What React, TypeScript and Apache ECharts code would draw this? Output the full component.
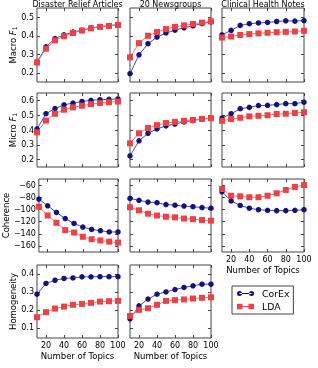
import React, { useEffect, useRef } from 'react';
import * as echarts from 'echarts';

const topics = [10, 20, 30, 40, 50, 60, 70, 80, 90, 100];
const topicTicks = [20, 40, 60, 80, 100];

const datasets = ['Disaster Relief Articles', '20 Newsgroups', 'Clinical Health Notes'];

const macroCorexDisaster = [0.258, 0.34, 0.385, 0.405, 0.42, 0.43, 0.442, 0.45, 0.455, 0.46];
const macroLdaDisaster = [0.255, 0.33, 0.375, 0.398, 0.415, 0.428, 0.44, 0.448, 0.453, 0.458];
const macroCorexNews = [0.195, 0.297, 0.357, 0.393, 0.415, 0.43, 0.443, 0.454, 0.466, 0.475];
const macroLdaNews = [0.283, 0.36, 0.4, 0.42, 0.436, 0.448, 0.456, 0.464, 0.471, 0.478];
const macroCorexClinical = [0.405, 0.429, 0.456, 0.465, 0.469, 0.472, 0.477, 0.481, 0.479, 0.482];
const macroLdaClinical = [0.39, 0.396, 0.404, 0.409, 0.413, 0.416, 0.419, 0.421, 0.423, 0.427];

const microCorexDisaster = [0.407, 0.51, 0.545, 0.57, 0.582, 0.593, 0.6, 0.605, 0.607, 0.61];
const microLdaDisaster = [0.384, 0.464, 0.51, 0.537, 0.553, 0.564, 0.575, 0.583, 0.588, 0.592];
const microCorexNews = [0.225, 0.327, 0.378, 0.407, 0.428, 0.44, 0.455, 0.464, 0.474, 0.48];
const microLdaNews = [0.31, 0.378, 0.414, 0.433, 0.447, 0.455, 0.462, 0.468, 0.475, 0.48];
const microCorexClinical = [0.48, 0.51, 0.544, 0.553, 0.565, 0.567, 0.572, 0.578, 0.578, 0.588];
const microLdaClinical = [0.462, 0.474, 0.483, 0.492, 0.496, 0.5, 0.508, 0.51, 0.515, 0.52];

const cohCorexDisaster = [-83, -94, -105, -115, -123, -129, -133, -135, -137, -137];
const cohLdaDisaster = [-95.5, -110, -122, -134, -138, -145, -149, -151, -153, -154.5];
const cohCorexNews = [-82, -85, -88, -89, -92, -93, -94.5, -95.5, -97, -98];
const cohLdaNews = [-96.5, -101.5, -107, -110, -112, -113, -115, -116, -117.5, -118.5];
const cohCorexClinical = [-71, -86, -93.5, -98, -100.5, -101.5, -102, -102, -101.5, -100.5];
const cohLdaClinical = [-66.5, -77.5, -78.5, -80, -80, -77.5, -73.5, -68, -63, -60];

const homCorexDisaster = [0.287, 0.347, 0.365, 0.375, 0.378, 0.384, 0.384, 0.385, 0.385, 0.385];
const homLdaDisaster = [0.159, 0.187, 0.207, 0.218, 0.228, 0.233, 0.239, 0.246, 0.248, 0.25];
const homCorexNews = [0.15, 0.222, 0.26, 0.287, 0.3, 0.313, 0.325, 0.334, 0.343, 0.343];
const homLdaNews = [0.166, 0.2, 0.209, 0.228, 0.25, 0.254, 0.258, 0.263, 0.267, 0.27];

const macroTicks = [0.2, 0.3, 0.4, 0.5];
const microTicks = [0.2, 0.3, 0.4, 0.5, 0.6];
const cohTicks = [-160, -140, -120, -100, -80, -60];
const homTicks = [0.1, 0.2, 0.3, 0.4];

const FONT = 'DejaVu Sans';
const FRAME = '#444';
const COREX_MARK = '#12127a';
const COREX_LINE = '#4a4ab2';
const LDA_MARK = '#ec4146';
const LDA_LINE = '#f27272';

const rows = [
  { name: 'Macro {i|F}{s|1}', min: 0.15, max: 0.55, ticks: macroTicks,
    data: [[macroCorexDisaster, macroLdaDisaster], [macroCorexNews, macroLdaNews], [macroCorexClinical, macroLdaClinical]] },
  { name: 'Micro {i|F}{s|1}', min: 0.15, max: 0.65, ticks: microTicks,
    data: [[microCorexDisaster, microLdaDisaster], [microCorexNews, microLdaNews], [microCorexClinical, microLdaClinical]] },
  { name: 'Coherence', min: -170, max: -50, ticks: cohTicks,
    data: [[cohCorexDisaster, cohLdaDisaster], [cohCorexNews, cohLdaNews], [cohCorexClinical, cohLdaClinical]] },
  { name: 'Homogeneity', min: 0.043, max: 0.45, ticks: homTicks,
    data: [[homCorexDisaster, homLdaDisaster], [homCorexNews, homLdaNews]] },
];

const colLeft = [37, 130, 222];
const colWidth = [81, 81, 82];
const rowTop = [8, 93, 179, 265];
const rowHeight = [74, 74, 73, 73];

const fmt = (v: number) => String(v).replace('-', '\u2212');

export default function App() {
  const ref = useRef<HTMLDivElement>(null);
  useEffect(() => {
    const chart = echarts.init(ref.current!, null, { renderer: 'svg' });
    const grid: any[] = [];
    const xAxis: any[] = [];
    const yAxis: any[] = [];
    const series: any[] = [];
    const tickStyle = { show: true, inside: true, length: 3, lineStyle: { color: FRAME, width: 1 } };
    rows.forEach((row, r) => {
      row.data.forEach((pair, c) => {
        const g = grid.length;
        grid.push({ left: colLeft[c], top: rowTop[r], width: colWidth[c], height: rowHeight[r],
          show: true, borderColor: FRAME, borderWidth: 1, backgroundColor: 'transparent' });
        const showX = r === 3 || (r === 2 && c === 2);
        xAxis.push({ gridIndex: g, type: 'value', min: 10, max: 100, position: 'bottom',
          axisLine: { show: false }, splitLine: { show: false },
          axisTick: { ...tickStyle, customValues: topicTicks },
          axisLabel: { show: showX, customValues: topicTicks, fontSize: 8, color: '#000', fontFamily: FONT, margin: 3 },
          name: showX ? 'Number of Topics' : '', nameLocation: 'middle', nameGap: 13,
          nameTextStyle: { fontSize: 8.5, color: '#000', fontFamily: FONT } });
        xAxis.push({ gridIndex: g, type: 'value', min: 10, max: 100, position: 'top',
          axisLine: { show: false }, splitLine: { show: false },
          axisTick: { ...tickStyle, customValues: topicTicks }, axisLabel: { show: false } });
        yAxis.push({ gridIndex: g, type: 'value', min: row.min, max: row.max, position: 'left',
          axisLine: { show: false }, splitLine: { show: false },
          axisTick: { ...tickStyle, customValues: row.ticks },
          axisLabel: { show: c === 0, customValues: row.ticks, formatter: fmt, fontSize: 8, color: '#000', fontFamily: FONT, margin: 3 },
          name: c === 0 ? row.name : '', nameLocation: 'middle', nameRotate: 90, nameGap: 19,
          nameTextStyle: { fontSize: 8.5, color: '#000', fontFamily: FONT,
            rich: { i: { fontSize: 8.5, fontStyle: 'italic', fontFamily: FONT, color: '#000' },
                    s: { fontSize: 6, fontFamily: FONT, color: '#000', verticalAlign: 'bottom' } } } });
        yAxis.push({ gridIndex: g, type: 'value', min: row.min, max: row.max, position: 'right',
          axisLine: { show: false }, splitLine: { show: false },
          axisTick: { ...tickStyle, customValues: row.ticks }, axisLabel: { show: false } });
        const ax = 2 * g;
        series.push({ name: 'CorEx', type: 'line', xAxisIndex: ax, yAxisIndex: ax,
          data: topics.map((t, i) => [t, pair[0][i]]), symbol: 'circle', symbolSize: 5.5,
          itemStyle: { color: COREX_MARK, borderWidth: 0 }, lineStyle: { color: COREX_LINE, width: 1 } });
        series.push({ name: 'LDA', type: 'line', xAxisIndex: ax, yAxisIndex: ax,
          data: topics.map((t, i) => [t, pair[1][i]]), symbol: 'rect', symbolSize: 6,
          itemStyle: { color: LDA_MARK, borderWidth: 0 }, lineStyle: { color: LDA_LINE, width: 1 } });
      });
    });
    const titles = datasets.map((d, c) => ({
      type: 'text', x: colLeft[c] + colWidth[c] / 2, y: 0,
      style: { text: d, align: 'center', verticalAlign: 'top', fontSize: 8, fontFamily: FONT, fill: '#000' },
    }));
    chart.setOption({
      animation: false,
      grid, xAxis, yAxis, series,
      legend: {
        data: [
          { name: 'CorEx', icon: 'path://M0,3a2.5,2.5 0 1,0 5,0a2.5,2.5 0 1,0 -5,0z M12,3a2.5,2.5 0 1,0 5,0a2.5,2.5 0 1,0 -5,0z M2.5,2.5h12v1h-12z' },
          { name: 'LDA', icon: 'path://M0,0.25h5.5v5.5h-5.5z M11.5,0.25h5.5v5.5h-5.5z M3,2.5h11v1h-11z' },
        ],
        orient: 'vertical', left: 232, top: 286, itemWidth: 17, itemHeight: 6, itemGap: 4,
        padding: [3, 4, 3, 5], borderColor: FRAME, borderWidth: 1,
        itemStyle: { borderWidth: 0 },
        textStyle: { fontSize: 9.3, fontFamily: FONT, color: '#000', padding: [0, 0, 0, 3] },
        selectedMode: false,
      },
      graphic: titles,
    });
    return () => chart.dispose();
  }, []);
  return <div ref={ref} style={{ position: 'fixed', left: 0, top: 0, width: 318, height: 368 }} />;
}
